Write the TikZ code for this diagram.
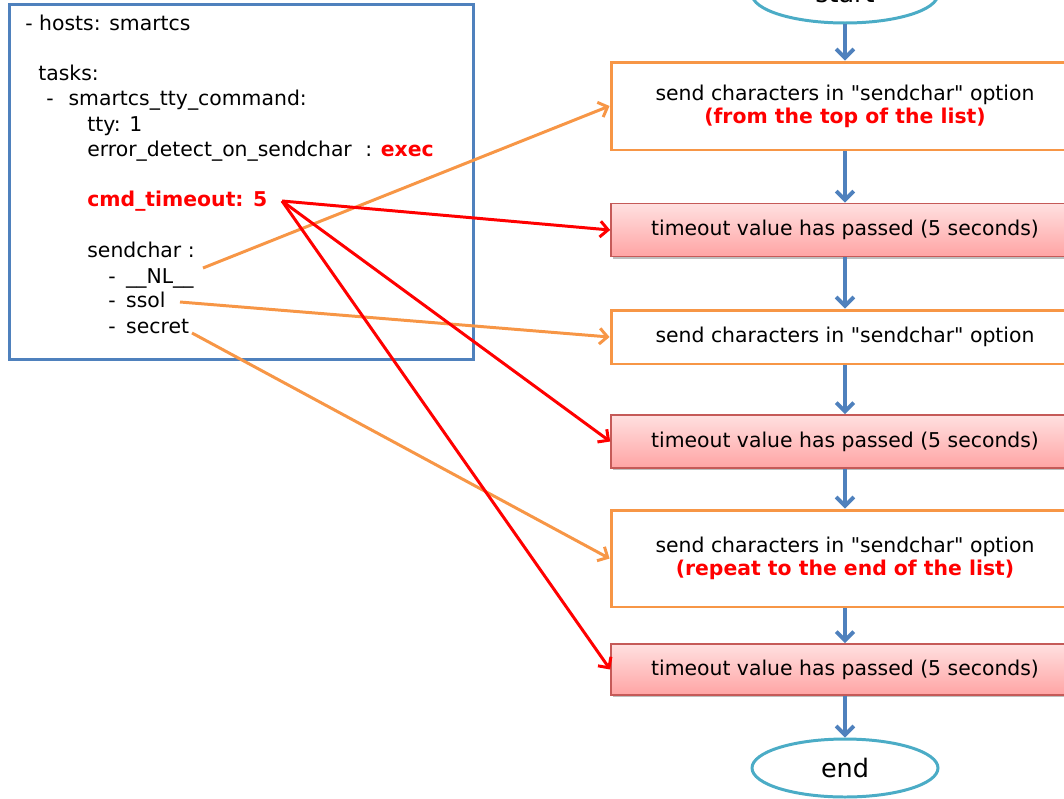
\documentclass[tikz,border=0pt]{standalone}
\usepackage{fontspec}
\setmainfont{DejaVu Sans}[Ligatures=TeXOff]
\usetikzlibrary{arrows.meta,shapes.geometric,shadows}

\definecolor{frameblue}{HTML}{4F81BD}
\definecolor{ovalblue}{HTML}{4BACC6}
\definecolor{sendorange}{HTML}{F79646}
\definecolor{alertred}{HTML}{FF0000}
\definecolor{pinktop}{HTML}{FFE0E0}
\definecolor{pinkbot}{HTML}{FFA4A4}
\definecolor{pinkedge}{HTML}{C55A58}

\tikzset{
  txt/.style={inner sep=0pt, anchor=base west, font=\fontsize{11.6}{14.2}\selectfont},
  hot/.style={text=alertred, font=\fontsize{11.6}{14.2}\selectfont\bfseries},
  yamlframe/.style={draw=frameblue, line width=1.7pt, minimum width=9.3cm, minimum height=7.12cm},
  oval/.style={ellipse, draw=ovalblue, line width=1.7pt, fill=white,
    minimum width=3.72cm, minimum height=1.16cm, font=\fontsize{14.5}{16}\selectfont},
  sendbox/.style={rectangle, draw=sendorange, line width=1.7pt, fill=white,
    minimum width=9.36cm, align=center, font=\fontsize{11.6}{14.2}\selectfont},
  waitbox/.style={rectangle, draw=pinkedge, line width=1pt, top color=pinktop, bottom color=pinkbot,
    minimum width=9.36cm, minimum height=1.06cm, font=\fontsize{11.6}{14.2}\selectfont,
    drop shadow={shadow xshift=1.2pt, shadow yshift=-1.2pt, opacity=0.25, fill=black}},
  flow/.style={draw=frameblue, line width=2.2pt, -{Straight Barb[length=5pt, width=10pt]}},
  feed/.style={draw=sendorange, line width=1.7pt, -{Straight Barb[length=4.5pt, width=9pt]}},
  wait/.style={draw=alertred, line width=1.7pt, -{Straight Barb[length=4.5pt, width=9pt]}},
}

\begin{document}
\begin{tikzpicture}[x=0.02cm, y=-0.02cm]
  \useasboundingbox (0,0) rectangle (1064,798);
  \clip (0,0) rectangle (1064,798);

  % playbook listing
  \node[yamlframe] (yaml) at (241.5,182) {};
  \node[txt] (hosts) at (25,30) {- hosts: smartcs};
  \node[txt] (tasks) at (38,80) {tasks:};
  \node[txt] (module) at (46,105) {-\hspace{8.5pt}smartcs\_tty\_command:};
  \node[txt] (tty) at (87,131) {tty: 1};
  \node[txt] (detect) at (87,156) {error\_detect\_on\_sendchar\hspace{4pt} : \textcolor{alertred}{\bfseries exec}};
  \node[txt, hot] (cmd) at (87,206) {cmd\_timeout: 5};
  \node[txt] (sendchar) at (87,257) {sendchar :};
  \node[txt] (nl) at (108,283) {-\hspace{6pt}\_\_NL\_\_};
  \node[txt] (ssol) at (108,307) {-\hspace{6pt}ssol};
  \node[txt] (secret) at (108,333) {-\hspace{6pt}secret};

  \coordinate (cmdEnd) at (282,201);
  \coordinate (nlEnd) at (203,268);
  \coordinate (ssolEnd) at (180,302);
  \coordinate (secretEnd) at (192,333);

  % flow chart
  \node[oval] (start) at (845,-6) {start};
  \node[sendbox, minimum height=1.76cm] (s1) at (845,106)
    {send characters in "sendchar" option\\[-1pt]\textcolor{alertred}{\bfseries (from the top of the list)}};
  \node[waitbox] (t1) at (845,230) {timeout value has passed (5 seconds)};
  \node[sendbox, minimum height=1.08cm] (s2) at (845,337) {send characters in "sendchar" option};
  \node[waitbox] (t2) at (845,441.5) {timeout value has passed (5 seconds)};
  \node[sendbox, minimum height=1.94cm] (s3) at (845,558.5)
    {send characters in "sendchar" option\\[-1pt]\textcolor{alertred}{\bfseries (repeat to the end of the list)}};
  \node[waitbox, minimum height=1.02cm] (t3) at (845,669.5) {timeout value has passed (5 seconds)};
  \node[oval] (stop) at (845,768) {end};

  \draw[flow] (start) -- (s1);
  \draw[flow] (s1) -- (t1);
  \draw[flow] (t1) -- (s2);
  \draw[flow] (s2) -- (t2);
  \draw[flow] (t2) -- (s3);
  \draw[flow] (s3) -- (t3);
  \draw[flow] (t3) -- (stop);

  % which list entry is sent at each step
  \draw[feed] (nlEnd) -- (s1.west);
  \draw[feed] (ssolEnd) -- (s2.west);
  \draw[feed] (secretEnd) -- (s3.west);

  % the timeout applied after each send
  \draw[wait] (cmdEnd) -- (t1.west);
  \draw[wait] (cmdEnd) -- (t2.west);
  \draw[wait] (cmdEnd) -- (t3.west);
\end{tikzpicture}
\end{document}
